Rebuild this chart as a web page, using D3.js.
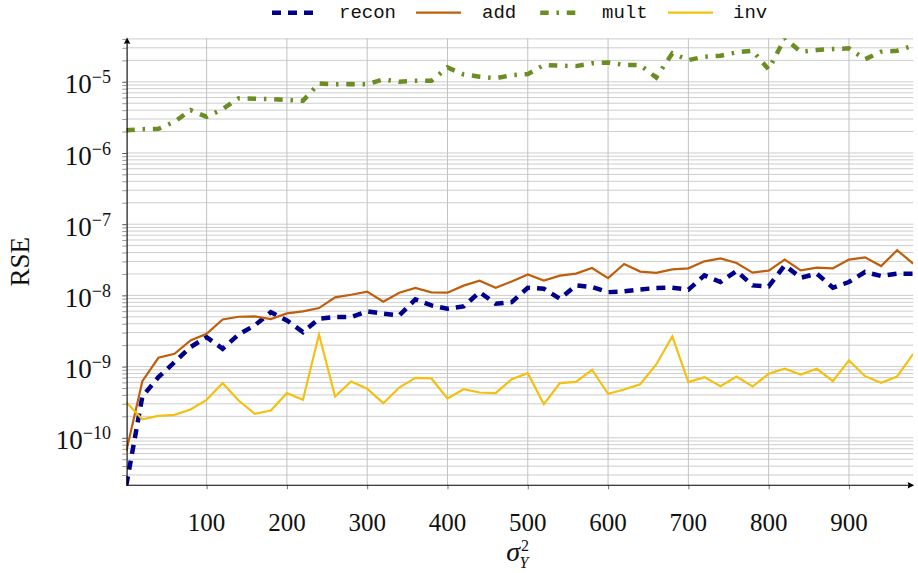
<!DOCTYPE html>
<html><head><meta charset="utf-8">
<script src="https://cdn.jsdelivr.net/npm/d3@7"></script>
<style>body{margin:0;background:#fff}svg{display:block}</style>
</head><body>
<svg id="c" width="918" height="573"></svg>
<script>
// ---- data ----
const sigma2 = [0,20,40,60,80,100,120,140,160,180,200,220,240,260,280,300,320,340,360,380,
  400,420,440,460,480,500,520,540,560,580,600,620,640,660,680,700,720,740,760,780,
  800,820,840,860,880,900,920,940,960,980];
const recon = [2.15e-11,3.8e-10,7.1e-10,1.15e-9,1.88e-9,2.59e-9,1.78e-9,2.83e-9,3.79e-9,5.82e-9,
  4.45e-9,3.05e-9,4.7e-9,4.95e-9,4.95e-9,5.96e-9,5.53e-9,5.23e-9,8.79e-9,7.23e-9,
  6.5e-9,7.0e-9,1.11e-8,7.64e-9,8.05e-9,1.28e-8,1.24e-8,8.99e-9,1.38e-8,1.31e-8,
  1.11e-8,1.14e-8,1.21e-8,1.27e-8,1.28e-8,1.2e-8,1.91e-8,1.54e-8,2.2e-8,1.38e-8,
  1.34e-8,2.64e-8,1.77e-8,2.02e-8,1.28e-8,1.54e-8,2.13e-8,1.87e-8,2.02e-8,2.02e-8];
const add = [6.46e-11,6.24e-10,1.33e-9,1.51e-9,2.33e-9,2.89e-9,4.59e-9,5.01e-9,5.07e-9,4.64e-9,
  5.58e-9,5.96e-9,6.63e-9,9.38e-9,1.02e-8,1.13e-8,8.15e-9,1.09e-8,1.27e-8,1.10e-8,
  1.09e-8,1.37e-8,1.61e-8,1.28e-8,1.57e-8,1.97e-8,1.61e-8,1.89e-8,2.02e-8,2.42e-8,
  1.75e-8,2.76e-8,2.16e-8,2.07e-8,2.32e-8,2.40e-8,3.01e-8,3.31e-8,2.85e-8,2.09e-8,
  2.23e-8,3.18e-8,2.25e-8,2.45e-8,2.40e-8,3.18e-8,3.42e-8,2.58e-8,4.30e-8,2.79e-8];
const mult = [2.09e-6,2.16e-6,2.18e-6,2.74e-6,4.0e-6,3.22e-6,4.13e-6,5.85e-6,5.77e-6,5.71e-6,
  5.53e-6,5.41e-6,9.5e-6,9.19e-6,9.29e-6,9.19e-6,1.08e-5,1.0e-5,1.03e-5,1.03e-5,
  1.59e-5,1.27e-5,1.18e-5,1.12e-5,1.24e-5,1.28e-5,1.72e-5,1.68e-5,1.66e-5,1.82e-5,
  1.87e-5,1.72e-5,1.72e-5,1.15e-5,2.51e-5,2.02e-5,2.25e-5,2.32e-5,2.59e-5,2.73e-5,
  1.49e-5,4.08e-5,2.64e-5,2.79e-5,2.88e-5,2.95e-5,2.07e-5,2.64e-5,2.73e-5,3.21e-5];
const inv = [3.16e-10,1.82e-10,2.03e-10,2.10e-10,2.49e-10,3.41e-10,5.85e-10,3.34e-10,2.17e-10,2.41e-10,
  4.23e-10,3.41e-10,2.83e-9,3.80e-10,6.17e-10,4.88e-10,3.06e-10,5.08e-10,6.96e-10,6.81e-10,
  3.56e-10,4.81e-10,4.32e-10,4.23e-10,6.65e-10,8.07e-10,2.96e-10,5.85e-10,6.11e-10,9.02e-10,
  4.14e-10,4.76e-10,5.65e-10,1.07e-9,2.65e-9,6.04e-10,7.10e-10,5.30e-10,7.26e-10,5.25e-10,
  7.92e-10,9.31e-10,7.74e-10,9.31e-10,6.24e-10,1.22e-9,7.33e-10,5.92e-10,7.26e-10,1.51e-9];
const xTickValues = [100,200,300,400,500,600,700,800,900];
const seriesNames = ["recon","add","mult","inv"];

// ---- styles ----
const styles = {
  recon: {color:"#00008b", width:4.5, dash:"9,7"},
  add:   {color:"#bf5f0c", width:2.2, dash:null},
  mult:  {color:"#6b8e23", width:4.5, dash:"8.5,7.8,2.5,7.8"},
  inv:   {color:"#f2c114", width:2.2, dash:null}
};
const seriesData = {recon, add, mult, inv};

const svg = d3.select("#c");
const L = 126.3, R = 913.2, T = 38.3, B = 485.3;
const all = [].concat(recon, add, mult, inv);
const x = d3.scaleLinear().domain([0, 980]).range([L, R]);
const y = d3.scaleLog().domain(d3.extent(all)).range([B, T]);

const serif = "'Liberation Serif','DejaVu Serif',serif";

// grid
const yTicks = y.ticks();
const isMajor = v => Math.abs(Math.log10(v) - Math.round(Math.log10(v))) < 1e-6;
svg.append("g").selectAll("line").data(yTicks).join("line")
  .attr("x1", L).attr("x2", R)
  .attr("y1", d => y(d)).attr("y2", d => y(d))
  .attr("stroke", "#cdcdcd").attr("stroke-width", 1);
svg.append("g").selectAll("line").data(xTickValues).join("line")
  .attr("x1", d => x(d)).attr("x2", d => x(d))
  .attr("y1", T).attr("y2", B)
  .attr("stroke", "#c2c2c2").attr("stroke-width", 1);

// ticks via axes
const gx = svg.append("g").attr("transform", `translate(0,${B})`)
  .call(d3.axisBottom(x).tickValues(xTickValues).tickSize(4).tickFormat(""));
gx.select(".domain").remove();
gx.selectAll(".tick line").attr("stroke", "#777");
const gy = svg.append("g").attr("transform", `translate(${L},0)`)
  .call(d3.axisLeft(y).tickValues(yTicks).tickSize(4).tickFormat(""));
gy.select(".domain").remove();
gy.selectAll(".tick line").attr("stroke", d => isMajor(d) ? "#555" : "#999");

// x tick labels
svg.append("g").selectAll("text").data(xTickValues).join("text")
  .attr("x", d => x(d)).attr("y", 531)
  .attr("text-anchor", "middle")
  .attr("font-family", serif).attr("font-size", 25)
  .attr("fill", "#111")
  .text(d => d);

// y tick labels
const majors = yTicks.filter(isMajor);
const yl = svg.append("g").selectAll("text").data(majors).join("text")
  .attr("x", 111).attr("y", d => y(d) + 11.6)
  .attr("text-anchor", "end")
  .attr("font-family", serif).attr("fill", "#111");
yl.append("tspan").attr("font-size", 27).text("10");
yl.append("tspan").attr("font-size", 18).attr("dy", -10)
  .text(d => "\u2212" + Math.abs(Math.round(Math.log10(d))));

// lines
const clip = svg.append("defs").append("clipPath").attr("id", "plotclip");
clip.append("rect").attr("x", L).attr("y", T).attr("width", R - L).attr("height", B - T);
const line = d3.line().x((d, i) => x(sigma2[i])).y(d => y(d));
const lg = svg.append("g").attr("clip-path", "url(#plotclip)");
seriesNames.forEach(n => {
  const s = styles[n];
  lg.append("path").datum(seriesData[n])
    .attr("d", line)
    .attr("fill", "none")
    .attr("stroke", s.color)
    .attr("stroke-width", s.width)
    .attr("stroke-dasharray", s.dash)
    .attr("stroke-linejoin", "miter")
    .attr("stroke-miterlimit", 10)
    .attr("stroke-linecap", "butt");
});

// axis lines with arrows
const axisX0 = x(0) + 0.8;
svg.append("line").attr("x1", axisX0).attr("x2", axisX0).attr("y1", B + 0.5).attr("y2", T + 2)
  .attr("stroke", "#000").attr("stroke-width", 1.1);
svg.append("line").attr("x1", L).attr("x2", R - 1).attr("y1", B).attr("y2", B)
  .attr("stroke", "#000").attr("stroke-width", 1.1);
const tipY = T - 0.8;
svg.append("path")
  .attr("d", `M${axisX0},${tipY} L${axisX0 + 3.3},${tipY + 6.5} Q${axisX0},${tipY + 4.8} ${axisX0 - 3.3},${tipY + 6.5} Z`)
  .attr("fill", "#000");
const tipX = R + 1;
svg.append("path")
  .attr("d", `M${tipX},${B} L${tipX - 6.5},${B - 3.3} Q${tipX - 4.8},${B} ${tipX - 6.5},${B + 3.3} Z`)
  .attr("fill", "#000");

// axis titles
svg.append("text").attr("transform", `translate(29,${(T + B) / 2}) rotate(-90)`)
  .attr("text-anchor", "middle").attr("font-family", serif).attr("font-size", 27)
  .attr("fill", "#111").text("RSE");
svg.append("text").attr("x", 520).attr("y", 561).attr("text-anchor", "end")
  .attr("font-family", serif).attr("font-style", "italic").attr("font-size", 28)
  .attr("fill", "#111").text("σ");
svg.append("text").attr("x", 521).attr("y", 551)
  .attr("font-family", serif).attr("font-size", 16).attr("fill", "#111").text("2");
svg.append("text").attr("x", 519.5).attr("y", 568)
  .attr("font-family", serif).attr("font-style", "italic").attr("font-size", 16)
  .attr("fill", "#111").text("Y");

// legend
const legSampleX = [272, 416, 537, 668];
const legTextX = [339, 482, 602, 733];
const lgd = svg.append("g");
seriesNames.forEach((n, i) => {
  const s = styles[n];
  lgd.append("line").attr("x1", legSampleX[i]).attr("x2", legSampleX[i] + 45)
    .attr("y1", 12.7).attr("y2", 12.7)
    .attr("stroke", s.color).attr("stroke-width", s.width)
    .attr("stroke-dasharray", s.dash)
    .attr("stroke-dashoffset", n === "mult" ? 23.4 : 0);
  lgd.append("text").attr("x", legTextX[i]).attr("y", 17.5)
    .attr("font-family", "'Liberation Mono','DejaVu Sans Mono',monospace")
    .attr("font-size", 19).attr("fill", "#111").text(n);
});
</script>
</body></html>
